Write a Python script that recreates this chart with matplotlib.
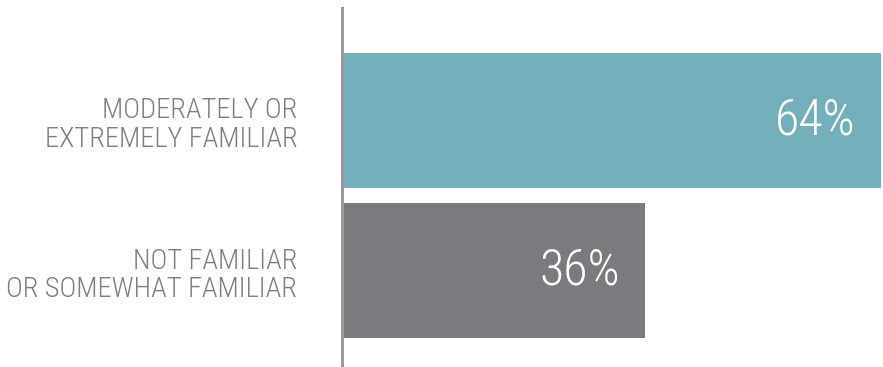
import matplotlib.pyplot as plt

categories = ["MODERATELY OR\nEXTREMELY FAMILIAR", "NOT FAMILIAR\nOR SOMEWHAT FAMILIAR"]
values = [64, 36]
colors = ["#74b0bc", "#7a7b7f"]

plt.rcParams['font.family'] = ['Roboto Condensed', 'Open Sans Condensed', 'DejaVu Sans']

fig = plt.figure(figsize=(8.83, 3.67), dpi=100)
# axes spans from the baseline to the right edge of the longest bar
ax = fig.add_axes([342 / 883, 0, (881 - 342) / 883, (367 - 8) / 367])

ypos = [1, 0]
ax.barh(ypos, values, height=0.9, color=colors, left=0)
ax.set_xlim(0, 64)
ax.set_ylim(-0.643, 1.75)

for y, v, lab in zip(ypos, values, categories):
    ax.text(v - 3.0, y, f"{v}%", ha='right', va='center', color='white',
            fontsize=36, fontweight='light')
    ax.text(-5.3, y - 0.03, lab, ha='right', va='center', color='#7f7f80',
            fontsize=20.5, fontweight='light', linespacing=1.05,
            multialignment='right')

for s in ['top', 'right', 'bottom']:
    ax.spines[s].set_visible(False)
ax.spines['left'].set_color('#9a9a9c')
ax.spines['left'].set_linewidth(2.2)
ax.set_xticks([])
ax.set_yticks([])

fig.savefig('out.png', dpi=100)
